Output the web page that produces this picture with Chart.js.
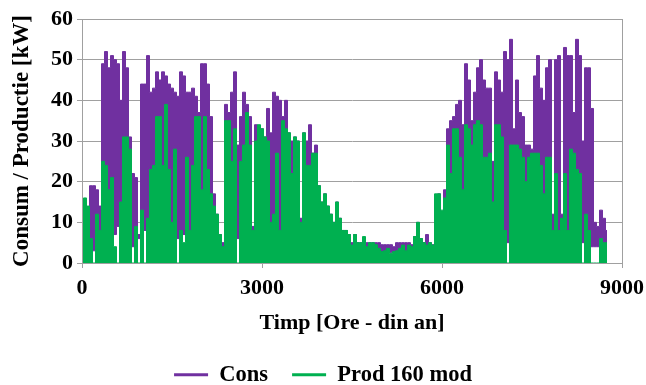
<!DOCTYPE html>
<html><head><meta charset="utf-8">
<script src="https://cdn.jsdelivr.net/npm/chart.js@4.4.1/dist/chart.umd.min.js"></script>
<style>html,body{margin:0;padding:0;background:#fff}#wrap{width:646px;height:385px}</style>
</head><body><div id="wrap"><canvas id="c" width="646" height="385"></canvas></div>
<script>
// Sampling grid of the envelope readings (hours of the year)
const SAMPLE_STEP = 50;
const xTicks = [0, 3000, 6000, 9000];

// Consumption: daily peak envelope read every 50 h (kW)
const consHigh = [
  8, 12, 11, 19, 19, 18, 14, 49, 52, 48,
  51, 50, 49, 40, 52, 48, 31, 22, 21, 7,
  44, 44, 51, 42, 43, 47, 45, 47, 46, 44,
  43, 42, 41, 47, 46, 42, 42, 43, 41, 37,
  49, 49, 44, 36, 17, 12, 7, 5, 39, 37,
  42, 47, 29, 36, 42, 39, 36, 9, 34, 32,
  33, 31, 38, 32, 42, 41, 40, 36, 40, 32,
  30, 31, 30, 11, 32, 30, 34, 27, 29, 19,
  15, 17, 14, 12, 10, 15, 11, 8, 8, 7,
  5, 7, 5, 5, 6, 5, 5, 5, 5, 5,
  4.5, 4.5, 4.5, 4.5, 4, 5, 5, 5, 5, 5,
  4.5, 6.5, 10, 6, 5, 7, 5, 4.5, 12, 17,
  12, 18, 33, 35, 36, 39, 40, 34, 49, 45,
  35, 42, 48, 50, 45, 43, 43, 25, 47, 45,
  42, 52, 50, 55, 33, 45, 37, 36, 29, 29,
  28, 46, 51, 43, 40, 48, 50, 12, 50, 51,
  12, 53, 51, 51, 37, 55, 51, 30, 48, 48,
  38, 10, 9, 13, 11, 8
];
// Consumption: nightly minimum envelope (kW)
const consLow = [
  3, 3, 3, 3, 3, 3, 3, 7, 7, 7,
  7, 7, 9, 9, 7, 7, 6, 4, 4, 6,
  7, 8, 7, 7, 7, 7, 7, 7, 7, 7,
  7, 7, 6, 7, 7, 7, 7, 7, 7, 7,
  7, 7, 7, 6, 4, 4, 4, 3, 6, 6,
  6, 6, 6, 6, 6, 6, 6, 5, 6, 6,
  6, 6, 6, 6, 6, 6, 6, 6, 6, 6,
  6, 6, 6, 5, 5, 5, 5, 4, 4, 4,
  4, 4, 4, 3, 3, 3, 3, 3, 3, 3,
  3, 3, 3, 3, 3, 2.5, 2.5, 2.5, 2.5, 2.5,
  2.5, 2.5, 2.5, 2.5, 2.5, 2.5, 2.5, 2.5, 2.5, 2.5,
  2.5, 3, 3, 3, 3, 4, 3, 3, 4, 4,
  5, 5, 6, 6, 6, 6, 6, 6, 6, 6,
  6, 6, 6, 6, 6, 6, 6, 6, 6, 6,
  6, 5, 5, 6, 6, 6, 6, 6, 6, 6,
  6, 6, 6, 6, 6, 6, 6, 6, 6, 6,
  6, 6, 6, 6, 6, 6, 5, 5, 5, 5,
  4, 4, 4, 4, 4, 4
];
// Production (160 modules): daily peak envelope read every 50 h (kW); nights are 0
const prodHigh = [
  6, 16, 14, 6, 0, 12, 8, 25, 24, 18,
  21, 4, 0, 15, 31, 31, 28, 0, 9, 0,
  13, 0, 11, 23, 24, 36, 36, 24, 39, 23,
  10, 28, 0, 8, 5, 26, 8, 24, 36, 36,
  18, 36, 23, 17, 14, 12, 7, 4, 35, 35,
  25, 33, 0, 25, 29, 37, 29, 8, 30, 34,
  33, 31, 30, 10, 12, 27, 8, 35, 33, 32,
  22, 31, 30, 10, 32, 24, 24, 27, 27, 19,
  15, 17, 14, 12, 10, 15, 11, 8, 8, 7,
  4.4, 7, 5, 5, 6.5, 4, 5, 5, 4.5, 3.6,
  2.8, 3, 3.6, 2.4, 2.8, 3, 3.6, 4.4, 3, 4.4,
  4, 6.5, 10, 6, 5, 4.4, 5, 4.4, 17, 17,
  13, 16, 29, 22, 33, 33, 26, 18, 34, 33,
  29, 34, 35, 34, 26, 26, 27, 15, 34, 34,
  31, 8, 0, 29, 29, 29, 28, 26, 20, 26,
  27, 27, 27, 24, 17, 26, 26, 8, 22, 8,
  11, 22, 8, 28, 27, 23, 22, 0, 12, 8,
  0, 0, 0, 6, 5, 5
];

const pts = arr => arr.map((v, i) => ({x: i * SAMPLE_STEP, y: v}));

const FONT = 'Liberation Serif, Times New Roman, serif';
const PURPLE = '#7030A0', GREEN = '#00B050';
const frame = {
  id: 'frame',
  afterDatasetsDraw(chart) {
    const {ctx, chartArea: a} = chart;
    ctx.save();
    ctx.strokeStyle = '#a0a0a0';
    ctx.lineWidth = 1;
    ctx.strokeRect(Math.round(a.left) + 0.5, Math.round(a.top) + 0.5, Math.round(a.right - a.left), Math.round(a.bottom - a.top));
    ctx.restore();
  }
};

new Chart(document.getElementById('c'), {
  type: 'line',
  data: {
    datasets: [
      {label: 'Cons', data: pts(consHigh), borderColor: PURPLE, backgroundColor: PURPLE,
       borderWidth: 1, pointRadius: 0, stepped: 'middle', order: 2,
       fill: {target: 1, above: PURPLE, below: PURPLE}},
      {label: 'Cons min', data: pts(consLow), borderColor: PURPLE, backgroundColor: PURPLE,
       borderWidth: 1, pointRadius: 0, stepped: 'middle', order: 3, fill: false},
      {label: 'Prod 160 mod', data: pts(prodHigh), borderColor: GREEN, backgroundColor: GREEN,
       borderWidth: 1, pointRadius: 0, stepped: 'middle', order: 1, fill: 'origin'}
    ]
  },
  options: {
    responsive: false,
    animation: false,
    events: [],
    layout: {padding: {left: 0, right: 0, top: 19, bottom: -11}},
    scales: {
      x: {
        type: 'linear', min: 0, max: 9000,
        afterBuildTicks: s => { s.ticks = xTicks.map(v => ({value: v})); },
        ticks: {color: '#000', font: {family: FONT, size: 22, weight: 'bold'}, padding: 7, maxRotation: 0,
                callback: v => String(v)},
        grid: {drawOnChartArea: false, drawTicks: true, tickLength: 5, color: '#a0a0a0'},
        border: {color: '#a0a0a0'},
        title: {display: true, text: 'Timp [Ore - din an]', color: '#000',
                font: {family: FONT, size: 22, weight: 'bold'}, padding: {top: 0, bottom: 3}},
        afterFit: s => { s.height = 76.5; s.paddingRight = 24; }
      },
      y: {
        min: 0, max: 60,
        ticks: {stepSize: 10, color: '#000', font: {family: FONT, size: 22, weight: 'bold'}, padding: 4},
        grid: {color: '#a0a0a0', tickLength: 5},
        border: {color: '#a0a0a0'},
        title: {display: true, text: 'Consum / Productie [kW]', color: '#000',
                font: {family: FONT, size: 23, weight: 'bold'}, padding: {top: 8, bottom: 0}},
        afterFit: s => { s.width = 82; }
      }
    },
    plugins: {
      legend: {
        position: 'bottom',
        labels: {boxWidth: 34, boxHeight: 3, padding: 24, color: '#000',
                 font: {family: FONT, size: 22.5, weight: 'bold'},
                 filter: item => item.datasetIndex !== 1,
                 sort: (a, b) => a.datasetIndex - b.datasetIndex,
                 generateLabels: chart => Chart.defaults.plugins.legend.labels.generateLabels(chart)
                   .map(it => Object.assign(it, {lineWidth: 0}))}
      },
      tooltip: {enabled: false}
    }
  },
  plugins: [frame]
});
</script></body></html>
